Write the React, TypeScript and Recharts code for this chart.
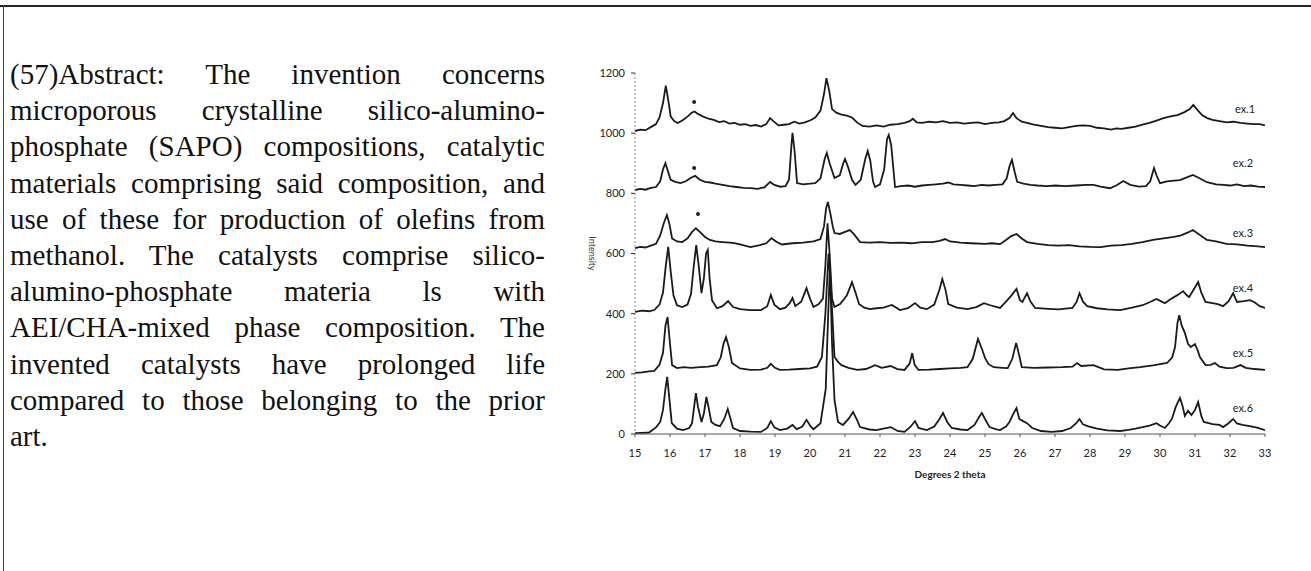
import React from 'react'
import { ComposedChart, Line, XAxis, YAxis, Scatter, ReferenceDot } from 'recharts'

// abstract text, one entry per printed line
const ABSTRACT_LINES = [
  '(57)Abstract: The invention concerns',
  'microporous crystalline silico-alumino-',
  'phosphate (SAPO) compositions, catalytic',
  'materials comprising said composition, and',
  'use of these for production of olefins from',
  'methanol. The catalysts comprise silico-',
  'alumino-phosphate materia ls with',
  'AEI/CHA-mixed phase composition. The',
  'invented catalysts have prolonged life',
  'compared to those belonging to the prior',
  'art.'
]

const X_TICKS = [15, 16, 17, 18, 19, 20, 21, 22, 23, 24, 25, 26, 27, 28, 29, 30, 31, 32, 33]
const Y_TICKS = [0, 200, 400, 600, 800, 1000, 1200]

// [2 theta, intensity]
const EX1 = [
  [15.0, 1007], [15.15, 1012], [15.3, 1010], [15.45, 1020], [15.6, 1030], [15.7, 1052], [15.8, 1100], [15.88, 1158],
  [15.95, 1110], [16.02, 1055], [16.12, 1040], [16.22, 1034], [16.35, 1042], [16.5, 1055], [16.62, 1068], [16.7, 1072],
  [16.8, 1064], [16.95, 1055], [17.1, 1048], [17.25, 1044], [17.4, 1037], [17.55, 1040], [17.7, 1032], [17.85, 1034],
  [18.0, 1028], [18.15, 1030], [18.3, 1024], [18.45, 1027], [18.6, 1022], [18.75, 1030], [18.86, 1050], [18.95, 1040],
  [19.1, 1026], [19.25, 1028], [19.4, 1030], [19.55, 1038], [19.7, 1032], [19.85, 1036], [20.0, 1042], [20.15, 1052],
  [20.3, 1075], [20.4, 1130], [20.47, 1183], [20.55, 1140], [20.63, 1080], [20.75, 1068], [20.9, 1062], [21.05, 1058],
  [21.2, 1052], [21.35, 1035], [21.5, 1024], [21.7, 1022], [21.9, 1026], [22.1, 1022], [22.3, 1028], [22.5, 1030],
  [22.7, 1034], [22.85, 1040], [22.94, 1048], [23.05, 1036], [23.2, 1034], [23.4, 1038], [23.6, 1036], [23.8, 1040],
  [24.0, 1034], [24.2, 1036], [24.4, 1032], [24.6, 1034], [24.8, 1036], [25.0, 1030], [25.2, 1034], [25.4, 1036],
  [25.55, 1040], [25.7, 1050], [25.8, 1067], [25.9, 1050], [26.05, 1038], [26.2, 1034], [26.4, 1028], [26.6, 1024],
  [26.8, 1020], [27.0, 1018], [27.2, 1016], [27.4, 1020], [27.6, 1024], [27.8, 1026], [28.0, 1024], [28.2, 1018],
  [28.4, 1016], [28.6, 1012], [28.75, 1016], [28.9, 1014], [29.1, 1018], [29.3, 1022], [29.5, 1028], [29.7, 1034],
  [29.9, 1042], [30.1, 1050], [30.3, 1056], [30.5, 1060], [30.7, 1070], [30.85, 1080], [30.95, 1094], [31.05, 1080],
  [31.2, 1060], [31.35, 1050], [31.5, 1044], [31.7, 1040], [31.9, 1036], [32.1, 1038], [32.3, 1034], [32.5, 1032],
  [32.7, 1030], [32.85, 1030], [33.0, 1026]
]

const EX2 = [
  [15.0, 811], [15.15, 815], [15.3, 812], [15.45, 818], [15.6, 821], [15.72, 840], [15.8, 880], [15.87, 900],
  [15.95, 870], [16.02, 845], [16.15, 838], [16.3, 834], [16.45, 840], [16.6, 852], [16.72, 858], [16.85, 845],
  [17.0, 838], [17.15, 836], [17.3, 832], [17.5, 828], [17.7, 824], [17.9, 821], [18.1, 818], [18.3, 817],
  [18.5, 815], [18.7, 820], [18.86, 838], [18.98, 828], [19.15, 822], [19.3, 824], [19.4, 845], [19.47, 960],
  [19.5, 1001], [19.56, 940], [19.63, 834], [19.8, 830], [20.0, 832], [20.15, 834], [20.3, 850], [20.42, 915],
  [20.48, 934], [20.56, 900], [20.7, 851], [20.85, 860], [20.95, 900], [21.0, 914], [21.08, 890], [21.2, 845],
  [21.3, 828], [21.45, 845], [21.58, 915], [21.65, 941], [21.72, 910], [21.8, 840], [21.86, 821], [22.0, 830],
  [22.12, 880], [22.2, 980], [22.25, 994], [22.32, 960], [22.43, 821], [22.6, 824], [22.8, 826], [23.0, 822],
  [23.2, 826], [23.4, 828], [23.6, 830], [23.8, 832], [23.95, 836], [24.1, 830], [24.3, 828], [24.5, 826],
  [24.7, 824], [24.9, 828], [25.1, 826], [25.3, 828], [25.5, 830], [25.62, 850], [25.7, 890], [25.77, 911],
  [25.85, 870], [25.92, 838], [26.1, 832], [26.3, 828], [26.5, 826], [26.77, 824], [27.0, 826], [27.3, 824],
  [27.6, 826], [27.9, 828], [28.1, 828], [28.3, 822], [28.57, 817], [28.75, 826], [28.95, 841], [29.15, 828],
  [29.4, 822], [29.6, 824], [29.72, 840], [29.83, 884], [29.9, 860], [30.0, 834], [30.2, 840], [30.4, 842],
  [30.57, 844], [30.75, 852], [30.94, 861], [31.1, 852], [31.34, 837], [31.6, 830], [31.8, 828], [32.0, 826],
  [32.2, 830], [32.4, 824], [32.6, 826], [32.8, 822], [33.0, 821]
]

const EX3 = [
  [15.0, 618], [15.15, 622], [15.3, 620], [15.45, 626], [15.6, 632], [15.72, 660], [15.82, 700], [15.91, 728],
  [15.98, 700], [16.06, 650], [16.2, 640], [16.35, 638], [16.5, 650], [16.62, 670], [16.74, 684], [16.86, 671],
  [17.0, 655], [17.14, 645], [17.3, 640], [17.5, 638], [17.8, 635], [18.0, 630], [18.3, 621], [18.57, 628],
  [18.75, 634], [18.9, 651], [19.05, 638], [19.2, 630], [19.5, 634], [19.8, 636], [20.1, 640], [20.3, 648],
  [20.4, 690], [20.46, 750], [20.51, 771], [20.57, 740], [20.65, 690], [20.7, 668], [20.85, 665], [21.0, 672],
  [21.14, 678], [21.25, 665], [21.43, 638], [21.7, 636], [22.0, 638], [22.3, 635], [22.6, 636], [22.9, 634],
  [23.2, 638], [23.5, 638], [23.7, 642], [23.86, 648], [24.0, 640], [24.3, 636], [24.6, 634], [25.0, 632],
  [25.2, 634], [25.43, 631], [25.6, 645], [25.75, 658], [25.9, 665], [26.05, 650], [26.2, 638], [26.5, 632],
  [26.8, 628], [27.1, 626], [27.4, 628], [27.7, 624], [28.0, 622], [28.3, 621], [28.6, 626], [28.9, 628],
  [29.2, 632], [29.5, 638], [29.8, 645], [30.1, 650], [30.4, 655], [30.6, 660], [30.8, 670], [30.94, 678],
  [31.1, 665], [31.34, 645], [31.6, 640], [31.9, 632], [32.2, 630], [32.5, 626], [32.8, 624], [33.0, 621]
]

const EX4 = [
  [15.0, 406], [15.2, 410], [15.4, 408], [15.55, 412], [15.7, 430], [15.8, 470], [15.88, 560], [15.95, 622],
  [16.02, 540], [16.1, 460], [16.2, 428], [16.35, 422], [16.5, 430], [16.6, 465], [16.68, 560], [16.75, 628],
  [16.82, 560], [16.9, 468], [16.97, 520], [17.03, 600], [17.08, 612], [17.13, 520], [17.2, 445], [17.34, 418],
  [17.5, 425], [17.66, 442], [17.8, 422], [18.0, 415], [18.3, 412], [18.6, 412], [18.78, 425], [18.88, 462],
  [18.98, 430], [19.14, 415], [19.3, 420], [19.42, 435], [19.5, 452], [19.58, 425], [19.75, 440], [19.9, 485],
  [20.0, 450], [20.1, 422], [20.25, 432], [20.37, 450], [20.44, 560], [20.5, 700], [20.56, 600], [20.63, 450],
  [20.7, 422], [20.86, 432], [21.05, 460], [21.2, 505], [21.3, 470], [21.4, 432], [21.55, 420], [21.71, 415],
  [21.9, 418], [22.1, 420], [22.34, 429], [22.57, 412], [22.8, 418], [23.0, 435], [23.15, 420], [23.34, 415],
  [23.55, 430], [23.7, 480], [23.78, 515], [23.87, 480], [23.95, 432], [24.2, 420], [24.5, 415], [24.75, 422],
  [24.97, 435], [25.15, 428], [25.43, 419], [25.6, 440], [25.75, 460], [25.9, 482], [26.0, 445], [26.07, 439],
  [26.2, 468], [26.3, 440], [26.43, 419], [26.8, 416], [27.1, 414], [27.5, 419], [27.62, 440], [27.7, 468],
  [27.8, 440], [27.92, 425], [28.2, 418], [28.5, 414], [28.86, 412], [29.2, 420], [29.5, 428], [29.7, 438],
  [29.9, 449], [30.05, 440], [30.14, 435], [30.3, 448], [30.4, 455], [30.55, 465], [30.66, 475], [30.76, 462],
  [30.83, 455], [30.95, 478], [31.09, 505], [31.18, 470], [31.3, 439], [31.5, 435], [31.65, 432], [31.8, 425],
  [31.95, 440], [32.09, 468], [32.2, 439], [32.4, 442], [32.57, 445], [32.7, 438], [32.85, 425], [33.0, 419]
]

const EX5 = [
  [15.0, 203], [15.2, 205], [15.4, 208], [15.55, 210], [15.7, 230], [15.8, 270], [15.87, 360], [15.93, 389],
  [16.0, 300], [16.06, 229], [16.2, 219], [16.4, 222], [16.6, 220], [16.86, 222], [17.1, 224], [17.34, 229],
  [17.45, 255], [17.53, 300], [17.6, 322], [17.68, 290], [17.77, 236], [18.0, 218], [18.3, 213], [18.6, 214],
  [18.78, 220], [18.88, 233], [19.0, 220], [19.14, 213], [19.4, 214], [19.7, 216], [20.0, 218], [20.2, 224],
  [20.34, 256], [20.44, 400], [20.53, 600], [20.6, 480], [20.7, 256], [20.8, 240], [20.9, 229], [21.1, 220],
  [21.35, 213], [21.6, 216], [21.86, 229], [22.05, 220], [22.3, 226], [22.5, 216], [22.7, 213], [22.85, 235],
  [22.92, 269], [22.99, 230], [23.1, 213], [23.4, 214], [23.7, 216], [24.0, 218], [24.3, 220], [24.5, 222],
  [24.65, 250], [24.8, 316], [24.92, 280], [25.0, 253], [25.1, 232], [25.25, 222], [25.5, 220], [25.65, 219],
  [25.78, 250], [25.89, 303], [25.98, 260], [26.05, 222], [26.4, 220], [26.8, 221], [27.2, 222], [27.5, 224],
  [27.63, 236], [27.75, 226], [28.1, 229], [28.4, 215], [28.8, 213], [29.1, 218], [29.43, 222], [29.8, 228],
  [30.2, 236], [30.35, 255], [30.43, 289], [30.5, 370], [30.55, 395], [30.62, 360], [30.71, 336], [30.8, 300],
  [30.88, 289], [31.0, 299], [31.07, 280], [31.14, 256], [31.3, 229], [31.45, 230], [31.57, 236], [31.7, 224],
  [31.9, 219], [32.1, 220], [32.3, 229], [32.45, 220], [32.7, 216], [33.0, 213]
]

const EX6 = [
  [15.0, 3], [15.2, 4], [15.4, 5], [15.6, 22], [15.72, 40], [15.8, 80], [15.87, 150], [15.92, 190],
  [15.98, 120], [16.05, 36], [16.2, 18], [16.37, 13], [16.55, 20], [16.63, 36], [16.7, 100], [16.74, 136],
  [16.8, 90], [16.9, 40], [16.97, 70], [17.04, 123], [17.1, 90], [17.18, 40], [17.3, 30], [17.43, 26],
  [17.55, 50], [17.65, 83], [17.73, 50], [17.8, 20], [18.0, 10], [18.3, 8], [18.6, 7], [18.78, 20],
  [18.88, 43], [18.98, 22], [19.14, 13], [19.35, 18], [19.5, 30], [19.62, 16], [19.78, 25], [19.9, 47],
  [20.02, 25], [20.1, 16], [20.3, 36], [20.45, 150], [20.52, 400], [20.57, 560], [20.63, 300], [20.7, 113],
  [20.8, 40], [20.94, 30], [21.1, 50], [21.23, 73], [21.35, 45], [21.43, 23], [21.7, 15], [21.9, 13],
  [22.1, 18], [22.31, 23], [22.5, 10], [22.7, 7], [22.88, 25], [23.0, 43], [23.1, 20], [23.34, 13],
  [23.55, 25], [23.7, 50], [23.8, 70], [23.92, 40], [24.05, 20], [24.3, 15], [24.5, 13], [24.7, 30],
  [24.85, 60], [24.91, 70], [25.0, 50], [25.13, 23], [25.3, 16], [25.43, 13], [25.6, 25], [25.7, 40],
  [25.82, 70], [25.9, 86], [25.98, 50], [26.1, 42], [26.2, 36], [26.35, 20], [26.6, 10], [26.9, 7],
  [27.2, 10], [27.45, 20], [27.6, 35], [27.7, 50], [27.8, 32], [27.93, 26], [28.2, 18], [28.5, 12],
  [28.86, 10], [29.1, 14], [29.3, 18], [29.5, 23], [29.7, 28], [29.9, 36], [30.0, 28], [30.14, 20],
  [30.25, 35], [30.34, 50], [30.45, 90], [30.57, 120], [30.64, 95], [30.71, 60], [30.8, 77], [30.9, 63],
  [31.0, 80], [31.09, 106], [31.18, 60], [31.25, 40], [31.5, 33], [31.7, 30], [31.8, 23], [31.95, 35],
  [32.09, 50], [32.2, 35], [32.35, 30], [32.57, 26], [32.8, 20], [33.0, 13]
]

const SERIES = [EX1, EX2, EX3, EX4, EX5, EX6]
const SERIES_NAMES = ['ex.1', 'ex.2', 'ex.3', 'ex.4', 'ex.5', 'ex.6']
const NAME_AT_X = [32.43, 32.37, 32.37, 32.37, 32.37, 32.37]
const NAME_AT_Y = [1080, 900, 668, 485, 269, 86]

// the little * marks over the 16.7 reflection
const MARKS = [[16.69, 1104], [16.69, 884], [16.8, 731]]

const toPoints = (rows: number[][]) => rows.map(([t, v]) => ({ t, v }))

const axisFont = { fontFamily: 'Lato, sans-serif', fontSize: 11, fill: '#222' }

const Dot = (p: any) => <circle cx={p.cx} cy={p.cy} r={2} fill="#222" />

export default function App() {
  return (
    <div style={{ position: 'absolute', left: 0, top: 0, width: 1311, height: 571, background: '#fff', overflow: 'hidden' }}>
      <div style={{ position: 'absolute', left: 0, top: 5, width: 1311, height: 2, background: '#222' }} />
      <div style={{ position: 'absolute', left: 3, top: 5, width: 1, height: 566, background: '#444' }} />

      <div style={{
        position: 'absolute', left: 10, top: 56, width: 535,
        fontFamily: '"Liberation Serif", serif', fontSize: 29, lineHeight: '36.2px', color: '#111'
      }}>
        {ABSTRACT_LINES.map((line, i) => (
          <div key={i} style={{
            whiteSpace: 'nowrap',
            textAlign: 'justify',
            textAlignLast: i === ABSTRACT_LINES.length - 1 ? 'left' : 'justify'
          }}>{line}</div>
        ))}
      </div>

      <div style={{ position: 'absolute', left: 560, top: 50 }}>
        <ComposedChart width={740} height={450} margin={{ top: 23, right: 35, left: 0, bottom: 22 }}>
          <XAxis
            type="number"
            dataKey="t"
            domain={[15, 33]}
            ticks={X_TICKS}
            allowDataOverflow
            height={44}
            tickSize={3}
            tickMargin={12}
            stroke="#555"
            tick={axisFont}
            label={{ value: 'Degrees 2 theta', position: 'insideBottom', offset: 0, style: { fontFamily: 'Lato, sans-serif', fontSize: 10, fontWeight: 700, fill: '#222' } }}
          />
          <YAxis
            type="number"
            dataKey="v"
            domain={[0, 1200]}
            ticks={Y_TICKS}
            allowDataOverflow
            width={75}
            tickSize={4}
            tickMargin={6}
            axisLine={{ stroke: '#888', strokeDasharray: '2 2' }}
            tickLine={{ stroke: '#333' }}
            tick={axisFont}
            label={{ value: 'Intensity', angle: 90, position: 'center', dx: -5, style: { fontFamily: 'Lato, sans-serif', fontSize: 9, fill: '#333' } }}
          />
          {SERIES.map((rows, i) => (
            <Line
              key={SERIES_NAMES[i]}
              data={toPoints(rows)}
              dataKey="v"
              type="linear"
              stroke="#1a1a1a"
              strokeWidth={1.8}
              dot={false}
              isAnimationActive={false}
            />
          ))}
          <Scatter data={toPoints(MARKS)} dataKey="v" shape={Dot} isAnimationActive={false} />
          {SERIES_NAMES.map((name, i) => (
            <ReferenceDot
              key={name}
              x={NAME_AT_X[i]}
              y={NAME_AT_Y[i]}
              r={1}
              fill="none"
              stroke="none"
              label={{ value: name, position: 'center', style: { fontFamily: 'Lato, sans-serif', fontSize: 11, fill: '#222' } }}
            />
          ))}
        </ComposedChart>
      </div>
    </div>
  )
}
